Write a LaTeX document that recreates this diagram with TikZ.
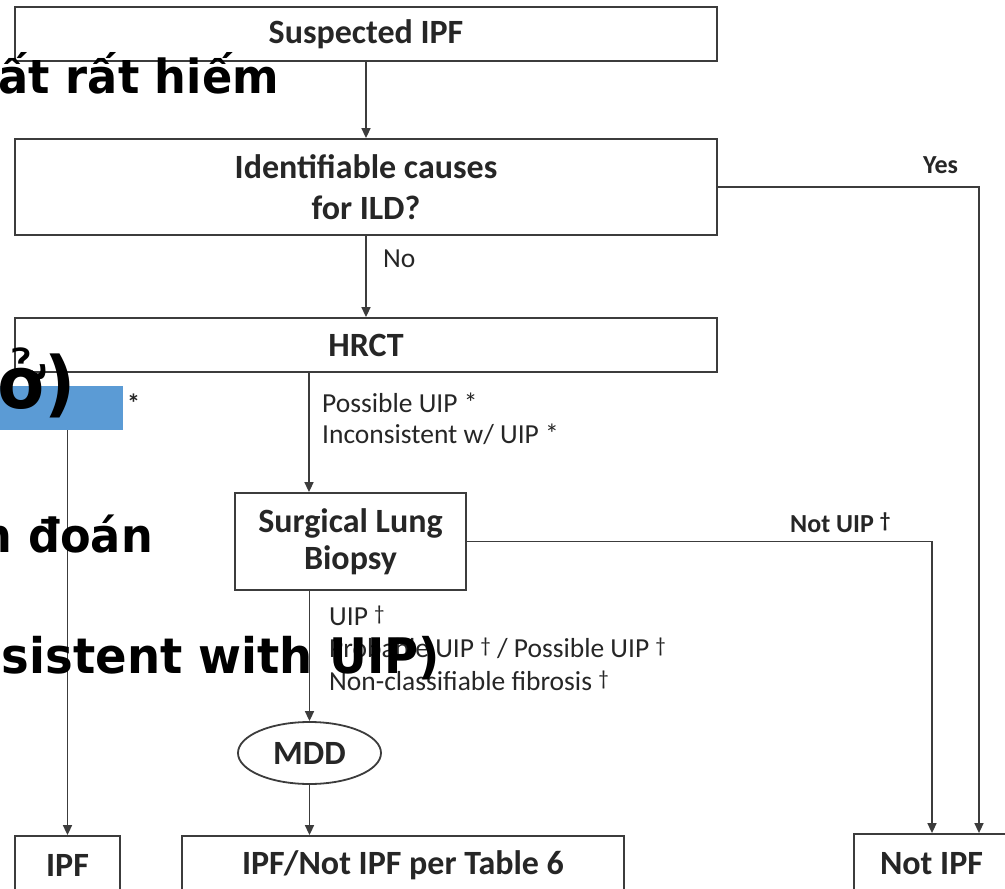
\documentclass[tikz,border=0pt]{standalone}
\usepackage{fontspec}
\setmainfont{Carlito}
\newfontfamily\vietfont[FakeStretch=0.95]{DejaVu Sans}
\usetikzlibrary{arrows.meta,shapes.geometric}
\definecolor{linegray}{HTML}{3C3C3C}
\definecolor{ink}{HTML}{262626}
\definecolor{uipblue}{HTML}{5B9BD5}
\newcommand{\dg}{\raisebox{.35ex}{\fontsize{21}{21}\selectfont †}}

\begin{document}
\begin{tikzpicture}[x=1pt,y=-1pt,
  box/.style={draw=linegray, line width=1.8pt, inner sep=0pt, text=ink, align=center,
    font=\fontsize{34}{41}\selectfont\bfseries},
  arr/.style={draw=linegray, line width=1.6pt, -{Triangle[length=10pt,width=9pt]}},
  lbl/.style={anchor=base west, inner sep=0pt, text=ink, font=\fontsize{27.5}{33}\selectfont},
  blbl/.style={anchor=base west, inner sep=0pt, text=ink, font=\fontsize{26}{31}\selectfont\bfseries},
  viet/.style={anchor=base east, inner sep=0pt, text=black, font=\vietfont\bfseries\fontsize{47}{56}\selectfont}]
\useasboundingbox (0,0) rectangle (1005,889);
\clip (0,0) rectangle (1005,889);
\coordinate (axis) at (309,0);
\coordinate (uipcol) at (932,0);
\coordinate (yescol) at (979,0);
% boxes
\node[box, minimum width=702pt, minimum height=54pt] (susp) at (366,34) {Suspected IPF};
\node[box, minimum width=702pt, minimum height=96pt] (ident) at (366,187) {Identifiable causes\\for ILD?};
\node[box, minimum width=702pt, minimum height=54pt] (hrct) at (366,345) {HRCT};
\node[fill=uipblue, inner sep=0pt, minimum width=128pt, minimum height=44pt] (uip) at (59,408) {};
\node[blbl] (uipstar) at (127,412) {*};
\node[box, minimum width=231pt, minimum height=97pt, font=\fontsize{34}{37}\selectfont\bfseries] (slb) at (350.5,541.5) {Surgical Lung\\Biopsy};
\node[box, ellipse, minimum width=143pt, minimum height=62pt] (mdd) at (309.5,753) {MDD};
\node[box, minimum width=105pt, minimum height=58pt] (ipf) at (67.5,865) {IPF};
\node[box, minimum width=442pt, minimum height=58pt] (table) at (403,865) {IPF/Not IPF per Table 6};
\node[box, minimum width=155pt, minimum height=60pt] (notipf) at (931.5,864) {Not IPF};
% connectors
\draw[arr] (susp) -- (ident);
\draw[arr] (ident) -- (hrct);
\draw[arr] (hrct.south -| axis) -- (slb.north -| axis);
\draw[arr] (slb.south -| mdd) -- (mdd);
\draw[arr] (mdd) -- (table.north -| mdd);
\draw[arr] (uip.south -| ipf) -- (ipf);
\draw[arr] (ident.east) -| (notipf.north -| yescol);
\draw[arr] (slb.east) -| (notipf.north -| uipcol);
% labels
\node[lbl] (no) at (383,267) {No};
\node[blbl] (yes) at (923,173) {Yes};
\node[blbl] (notuip) at (790,532) {Not UIP \dg};
\node[lbl] (hrctout1) at (322,412) {Possible UIP *};
\node[lbl] (hrctout2) at (322,443) {Inconsistent w/ UIP *};
\foreach \t [count=\k] in {UIP \dg, Probable UIP \dg\ / Possible UIP \dg, Non-classifiable fibrosis \dg}
  \node[lbl] (slbout\k) at (329,{625+32.5*(\k-1)}) {\t};
% overlay text
\node[viet] (over1) at (279,93) {ất rất hiếm};
\node[viet, font=\vietfont\bfseries\fontsize{72}{80}\selectfont] (over2) at (76,408) {ở)};
\node[viet] (over3) at (153,552) {n đoán};
\node[viet, font=\vietfont\bfseries\fontsize{49}{58}\selectfont] (over4) at (440,673) {sistent with UIP)};
\end{tikzpicture}
\end{document}
